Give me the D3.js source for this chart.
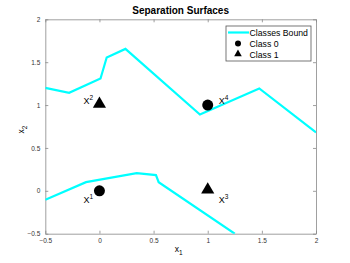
<!DOCTYPE html>
<html>
<head>
<meta charset="utf-8">
<script src="https://cdn.jsdelivr.net/npm/d3@7"></script>
<style>
  body { margin: 0; background: #fff; }
  text { font-family: "Liberation Sans", Arial, sans-serif; }
</style>
</head>
<body>
<svg id="chart" width="350" height="263"></svg>
<script>
const upperX = [-0.5, -0.28, 0.01, 0.067, 0.24, 0.928, 1.476, 2.0];
const upperY = [1.2, 1.143, 1.31, 1.555, 1.655, 0.89, 1.194, 0.68];
const lowerX = [-0.5, -0.124, 0.344, 0.522, 0.547, 1.25];
const lowerY = [-0.105, 0.101, 0.206, 0.183, 0.101, -0.5];
const class0X = [0, 1];
const class0Y = [0, 1];
const class1X = [0, 1];
const class1Y = [1, 0];
const pointLabels = ['1', '2', '3', '4'];
const labelX = [0, 0, 1, 1];
const labelY = [0, 1, 0, 1];
const ticks = [-0.5, 0, 0.5, 1, 1.5, 2];

const svg = d3.select('#chart');
const margin = { top: 19.3, right: 34, bottom: 29.3, left: 45.3 };
const width = +svg.attr('width');
const height = +svg.attr('height');

const xScale = d3
  .scaleLinear()
  .domain([-0.5, 2])
  .range([margin.left, width - margin.right]);

const yScale = d3
  .scaleLinear()
  .domain([-0.5, 2])
  .range([height - margin.bottom, margin.top]);

const axisColor = '#888';
const fmt = d => (d === 0 ? '0' : d3.format('')(d));

// axes, ticks inside, box
const xAxis = d3.axisBottom(xScale).tickValues(ticks).tickFormat(fmt).tickSizeInner(-3).tickSizeOuter(0).tickPadding(5);
const xAxisTop = d3.axisTop(xScale).tickValues(ticks).tickFormat('').tickSizeInner(-3).tickSizeOuter(0);
const yAxis = d3.axisLeft(yScale).tickValues(ticks).tickFormat(fmt).tickSizeInner(-3).tickSizeOuter(0).tickPadding(5);
const yAxisRight = d3.axisRight(yScale).tickValues(ticks).tickFormat('').tickSizeInner(-3).tickSizeOuter(0);

const styleAxis = g => {
  g.selectAll('path, line').attr('stroke', axisColor).attr('stroke-width', 0.8);
  g.selectAll('text').attr('fill', '#333').style('font-size', '6.5px');
};

svg.append('g').attr('transform', 'translate(0,' + (height - margin.bottom) + ')').call(xAxis).call(styleAxis);
svg.append('g').attr('transform', 'translate(0,' + margin.top + ')').call(xAxisTop).call(styleAxis);
svg.append('g').attr('transform', 'translate(' + margin.left + ',0)').call(yAxis).call(styleAxis);
svg.append('g').attr('transform', 'translate(' + (width - margin.right) + ',0)').call(yAxisRight).call(styleAxis);

// clip region
svg.append('clipPath').attr('id', 'clip')
  .append('rect')
  .attr('x', margin.left).attr('y', margin.top)
  .attr('width', width - margin.left - margin.right)
  .attr('height', height - margin.top - margin.bottom);

const line = d3.line().x(d => xScale(d[0])).y(d => yScale(d[1]));

const plot = svg.append('g').attr('clip-path', 'url(#clip)');
[d3.zip(upperX, upperY), d3.zip(lowerX, lowerY)].forEach(pts => {
  plot.append('path')
    .datum(pts)
    .attr('d', line)
    .attr('fill', 'none')
    .attr('stroke', '#00ffff')
    .attr('stroke-width', 2.2);
});

// points
svg.selectAll('.c0')
  .data(d3.zip(class0X, class0Y))
  .enter().append('circle')
  .attr('cx', d => xScale(d[0]))
  .attr('cy', d => yScale(d[1]))
  .attr('r', 5.5)
  .attr('fill', '#000');

const tri = d3.symbol().type(d3.symbolTriangle).size(75);
svg.selectAll('.c1')
  .data(d3.zip(class1X, class1Y))
  .enter().append('path')
  .attr('d', tri)
  .attr('transform', d => 'translate(' + xScale(d[0]) + ',' + (yScale(d[1]) - 1) + ')')
  .attr('fill', '#000');

// point labels
const offsets = [[-16, 12], [-16, -1], [11, 12], [11, -1]];
pointLabels.forEach((lab, i) => {
  const t = svg.append('text')
    .attr('x', xScale(labelX[i]) + offsets[i][0])
    .attr('y', yScale(labelY[i]) + offsets[i][1])
    .style('font-size', '9px')
    .attr('fill', '#000');
  t.append('tspan').text('X');
  t.append('tspan').attr('dy', -4).style('font-size', '6.5px').text(lab);
});

// title
svg.append('text')
  .attr('x', (margin.left + width - margin.right) / 2)
  .attr('y', 14)
  .attr('text-anchor', 'middle')
  .style('font-size', '10px')
  .style('font-weight', 'bold')
  .text('Separation Surfaces');

// axis labels
const xl = svg.append('text')
  .attr('x', (margin.left + width - margin.right) / 2 - 2)
  .attr('y', 252)
  .attr('text-anchor', 'middle')
  .style('font-size', '8.5px');
xl.append('tspan').text('x');
xl.append('tspan').attr('dy', 3).style('font-size', '6.5px').text('1');

const yl = svg.append('text')
  .attr('transform', 'translate(24,' + ((margin.top + height - margin.bottom) / 2 + 3) + ') rotate(-90)')
  .attr('text-anchor', 'middle')
  .style('font-size', '8.5px');
yl.append('tspan').text('x');
yl.append('tspan').attr('dy', 3).style('font-size', '6.5px').text('2');

// legend
const lg = svg.append('g');
lg.append('rect')
  .attr('x', 226).attr('y', 26).attr('width', 85).attr('height', 35)
  .attr('fill', '#fff').attr('stroke', '#555').attr('stroke-width', 0.8);
lg.append('line')
  .attr('x1', 228).attr('x2', 249).attr('y1', 32.5).attr('y2', 32.5)
  .attr('stroke', '#00ffff').attr('stroke-width', 2.2);
lg.append('circle').attr('cx', 238).attr('cy', 43.5).attr('r', 3).attr('fill', '#000');
lg.append('path').attr('d', d3.symbol().type(d3.symbolTriangle).size(25)).attr('transform', 'translate(238,54)').attr('fill', '#000');
const legendLabels = ['Classes Bound', 'Class 0', 'Class 1'];
legendLabels.forEach((t, i) => {
  lg.append('text')
    .attr('x', 249.5).attr('y', 35.7 + i * 11)
    .style('font-size', '8.7px')
    .text(t);
});
</script>
</body>
</html>
